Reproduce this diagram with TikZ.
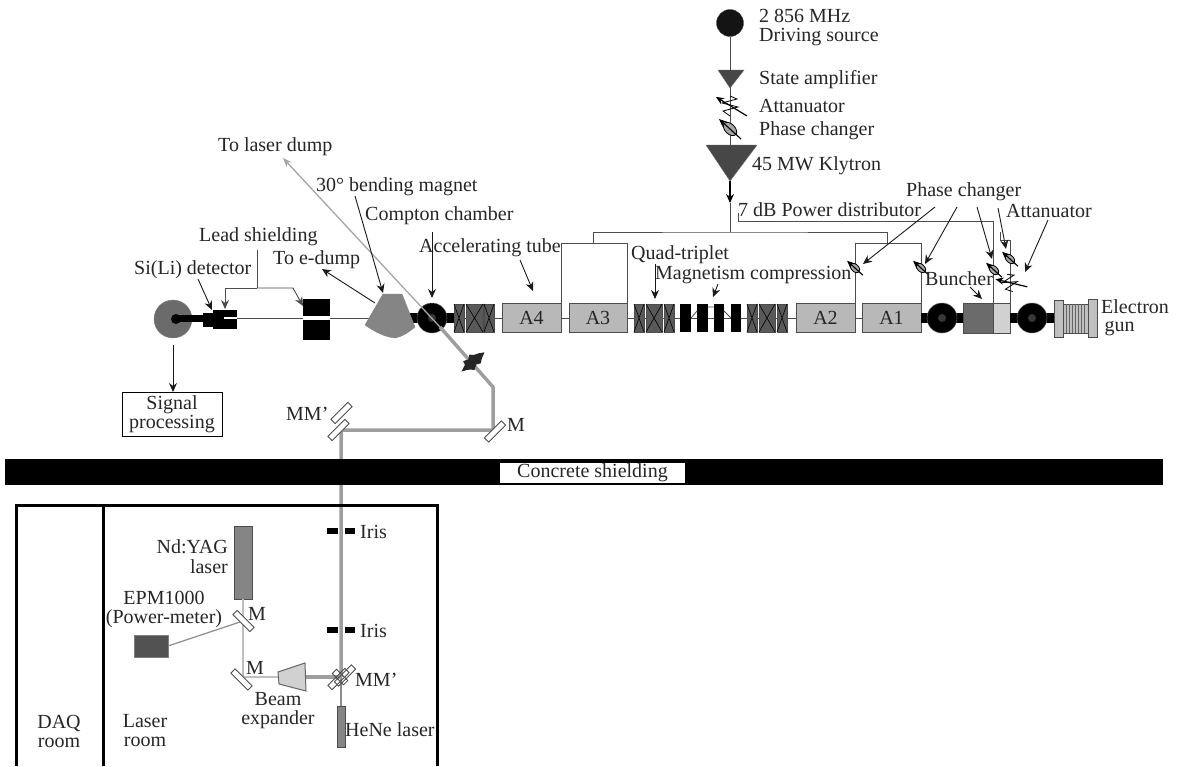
\documentclass[tikz,border=0pt]{standalone}
\usepackage{fontspec}
\setmainfont{Liberation Serif}
\usetikzlibrary{arrows.meta,shapes.geometric}
\newcommand{\pbx}[7]{%
 \pgfmathsetmacro\cxx{(#3+#5)/2}\pgfmathsetmacro\cyy{(#4+#6)/2}%
 \pgfmathsetmacro\wxx{abs(#5-#3)}\pgfmathsetmacro\hyy{abs(#6-#4)}%
 \node[#1,minimum width=\wxx pt,minimum height=\hyy pt] (#2) at (\cxx,\cyy) {#7};}
\newcommand{\quadm}[3]{\pbx{quadbox}{#1}{#2}{304}{#3}{332}{}%
 \draw[line width=.6pt,black] (#1.north west)--(#1.south east) (#1.north east)--(#1.south west);}
\tikzset{
 txt/.style={font=\fontsize{20}{19.5}\selectfont,inner sep=0pt,anchor=west,text=black!85,align=left,yshift=-1.5pt},
 ctxt/.style={txt,anchor=center,align=center},
 part/.style={draw=black!70,line width=1pt,inner sep=0pt,outer sep=0pt},
 tube/.style={part,fill=black!28,font=\fontsize{20}{19.5}\selectfont,text=black!85},
 quadbox/.style={part,fill=black!65},
 solid black/.style={fill=black,draw=none,inner sep=0pt,outer sep=0pt},
 wire/.style={draw=black!70,line width=1pt},
 arr/.style={draw=black!90,line width=.9pt,-{Stealth[length=9pt,width=8pt]}},
 beam/.style={draw=black!38,line width=3.5pt},
 thinbeam/.style={draw=black!25,line width=1.2pt},
 mirror/.style={draw=black!70,fill=white,line width=.8pt,rectangle,minimum width=24pt,minimum height=6pt,inner sep=0pt},
 hole/.style={circle,fill=black,draw=black!60,line width=.5pt,inner sep=0pt,minimum size=#1},
 phasesym/.pic={
  \draw[draw=black,fill=black!35,line width=.8pt] (0,0) ellipse [x radius=8,y radius=5,rotate=-45];
  \draw[draw=black,line width=1.1pt,-{Stealth[length=8pt,width=7pt]}] (11,10)--(-11,-10);},
 attsym/.pic={
  \draw[draw=black,line width=.8pt] (0,-10)--(7,-7)--(-8,-3)--(8,1)--(-7,5)--(0,10);
  \draw[draw=black,line width=1.2pt,-{Stealth[length=8pt,width=7pt]}] (17,10)--(-14,-9);},
}
\begin{document}
\begin{tikzpicture}[x=1pt,y=-1pt]
\useasboundingbox[fill=white] (0,0) rectangle (1182,766);
% beam line
\coordinate (bl) at (173,318); \coordinate (gunl) at (1054,318);
\draw[wire] (bl)--(gunl);
% RF chain
\node[circle,fill=black!92,draw=black!70,inner sep=0pt,minimum size=27pt] (src) at (730,23) {};
\coordinate (amptop) at (730,70);
\coordinate (klytop) at (730,145);
\coordinate (klyapex) at (730,181);
\coordinate (split) at (730,203);
\coordinate (bus) at (730,232);
\draw[wire] (src)--(amptop);
\draw[wire] (amptop)--(klytop);
\path[fill=black!72,draw=black!60] (718,70)--(744,70)--(730,88)--cycle;
\path pic at (730,106) {attsym};
\path pic at (730,129) {phasesym};
\path[fill=black!72,draw=black!60] (706,145)--(757,145)--(730,181)--cycle;
\draw[draw=black,line width=1.2pt,-{Stealth[length=9pt,width=8pt]}] (klyapex)--(split);
\draw[wire] (split)--(bus);
% accelerating tubes
\pbx{tube}{a4}{502}{303}{561}{332}{A4}
\pbx{tube}{a3}{569}{303}{627}{332}{A3}
\pbx{tube}{a2}{796}{303}{855}{332}{A2}
\pbx{tube}{a1}{862}{303}{921}{332}{A1}
% waveguide loops
\coordinate (lp3) at (561,243); \coordinate (lp1) at (855,243);
\draw[wire] (a4.north east)--(lp3)-|(a3.north east);
\draw[wire] (a2.north east)--(lp1)-|(a1.north east);
\coordinate (bl3) at (593,243); \coordinate (bl1) at (887,243);
\draw[wire] (bl3)|-(bus) -| (bl1);
% quads
\quadm{qa}{454}{464}\quadm{qb}{466}{483}\quadm{qc}{484}{494}
\quadm{qd}{634}{644}\quadm{qe}{646}{662}\quadm{qf}{664}{674}
\quadm{qg}{747}{757}\quadm{qh}{759}{775}\quadm{qi}{777}{787}
% chicane
\pbx{solid black}{ma}{680}{304}{691}{332}{}
\pbx{solid black}{mb}{697}{304}{708}{332}{}
\pbx{solid black}{mc}{714}{304}{724}{332}{}
\pbx{solid black}{md}{731}{304}{741}{332}{}
\draw[wire,line width=.8pt] (691,318)--(697,311) (708,307)--(714,307) (724,311)--(731,318);
% buncher and gun
\pbx{part,fill=black!58}{bun}{963}{303}{993}{333}{}
\pbx{part,fill=black!18}{bunb}{993}{303}{1010}{333}{}
\pbx{solid black}{bara}{921}{313}{963}{323}{}
\node[hole=30pt] (ca) at (942,318) {};
\node[circle,fill=black!78,inner sep=0pt,minimum size=8pt] (cai) at (942,318) {};
\pbx{solid black}{barb}{1010}{313}{1054}{323}{}
\node[hole=30pt] (cb) at (1032,318) {};
\node[circle,fill=black!78,inner sep=0pt,minimum size=8pt] (cbi) at (1032,318) {};
\pbx{part,fill=black!25}{guna}{1054}{300}{1063}{337}{}
\pbx{part,fill=black!25}{gunc}{1088}{299}{1097}{337}{}
\pbx{part,fill=black!25,line width=.6pt}{gunb}{1063}{304}{1088}{333}{}
\foreach \gx in {1066,1069,...,1086}{\draw[black!60,line width=.7pt] (\gx,304)--(\gx,333);}
% second power line
\coordinate (pa) at (738,213); \coordinate (pb) at (738,221); \coordinate (pc) at (993,221);
\draw[wire] (pa)--(pb)--(pc)--(bun.north east);
\coordinate (pd) at (1000,232); \coordinate (pe) at (1000,240); \coordinate (pf) at (1010,240);
\draw[wire] (pd)--(pe)--(pf)--(bunb.north east);
\path pic[scale=.72] at (855,268) {phasesym};
\path pic[scale=.72] at (921,268) {phasesym};
\path pic[scale=.72] at (994,270) {phasesym};
\path pic[scale=.72] at (1010,259) {phasesym};
\path pic[rotate=18,scale=.9] at (1010,283) {attsym};
% left end
\node[circle,fill=black!58,draw=black!50,inner sep=0pt,minimum size=38pt] (det) at (173,319) {};
\pbx{solid black}{detbar}{176}{315}{205}{322}{}
\node[circle,fill=black,inner sep=0pt,minimum size=10pt] (detdot) at (176,319) {};
\pbx{solid black}{dethead}{203}{313}{214}{327}{}
\pbx{solid black}{detbody}{213}{310}{237}{329}{}
\pbx{solid black}{leada}{303}{299}{330}{340}{}
\node[fill=white,inner sep=0pt,minimum width=27pt,minimum height=4pt] (leadb) at (316.5,318) {};
\node[fill=white,inner sep=0pt,minimum width=13pt,minimum height=2.5pt] (detslit) at (230.5,318) {};
\pbx{solid black}{barc}{410}{313}{454}{323}{}
\node[hole=30pt] (cc) at (432,318) {};
\node[circle,fill=black!78,inner sep=0pt,minimum size=8pt] (cci) at (432,318) {};
\path[fill=black!48,draw=black!50] (383,294)--(402,294)--(415,327) .. controls (408,333) and (401,337) .. (395,338) .. controls (385,337) and (375,332) .. (365,325)--cycle;
\coordinate (bendtop) at (383,293);
\coordinate (bendl) at (375,303);
% laser beam outside
\coordinate (dump) at (283,158);
\coordinate (bsa) at (440,327); \coordinate (bsb) at (493,387); \coordinate (bsc) at (493,430);
\coordinate (bsd) at (341,430); \coordinate (bse) at (341,677);
\draw[draw=black!35,line width=1.3pt,-{Stealth[length=9pt,width=7pt]}] (bsa)--(dump);
\draw[beam,line join=round] (bsa)--(bsb)--(bsc)--(bsd)--(bse);
\path[fill=black!85,shift={(473,362)},rotate=40] (-15,0)--(-8,-3)--(-7,-7)--(-2,-5)--(2,-8)--(5,-5)--(10,-3)--(15,0)--(9,3)--(5,6)--(1,4)--(-4,7)--(-7,4)--(-10,2)--cycle;
% mirrors beam room
\node[mirror,rotate=45] (mma) at (341.5,413) {};
\node[mirror,rotate=45] (mmb) at (338.5,430) {};
\node[mirror,rotate=45] (mtop) at (495,431.5) {};
% concrete
\pbx{solid black}{conc}{5}{459}{1163}{485}{}
\pbx{fill=white,inner sep=0pt,outer sep=0pt,font=\fontsize{20}{19.5}\selectfont,text=black!85}{concl}{500}{463}{685}{483}{Concrete shielding}
% rooms
\draw[draw=black,line width=3pt] (16,766)--(16,505)--(437,505)--(437,766);
\coordinate (divt) at (103.5,505); \coordinate (divb) at (103.5,766);
\draw[draw=black,line width=3pt] (divt)--(divb);
% irises
\pbx{solid black}{ira}{327}{528}{338}{534}{}
\pbx{solid black}{irb}{345}{528}{355}{534}{}
\pbx{solid black}{irc}{327}{627}{338}{633}{}
\pbx{solid black}{ird}{345}{627}{355}{633}{}
% laser room
\pbx{part,fill=black!48}{yag}{234}{526}{252}{599}{}
\pbx{part,draw=black!50,fill=black!68}{epm}{134}{635}{168}{657}{}
\pbx{part,fill=black!48}{hene}{337}{706}{345}{747}{}
\coordinate (ma) at (243,621); \coordinate (mb) at (243,677);
\coordinate (bxl) at (278,677); \coordinate (bxr) at (306,677);
\draw[thinbeam] (yag.south)--(ma)--(mb)--(bxl);
\draw[draw=black!45,line width=1.2pt] (epm.east)--(ma);
\draw[draw=black!45,line width=1.2pt] (bse)--(hene.north);
\draw[beam] (bxr)--(bse);
\path[fill=black!18,draw=black!60,line width=1pt] (278,672)--(305,663)--(306,691)--(279,684)--cycle;
\node[mirror,rotate=-45] (m1) at (243.5,621) {};
\node[mirror,rotate=-45] (m2) at (241.5,679.5) {};
\node[mirror,rotate=45,fill=none] (mmc) at (338.5,679) {};
\node[mirror,rotate=45,fill=none] (mmd) at (345,675.5) {};
\node[mirror,rotate=-45,fill=none,minimum width=16pt] (mme) at (340,677) {};
% signal box
\pbx{draw=black,line width=1pt,inner sep=0pt,outer sep=0pt,font=\fontsize{20}{19.5}\selectfont,text=black!85,align=center}{sig}{122}{392}{222}{436}{Signal\\[-1pt]processing}
% labels
\node[txt] (t1) at (759,26) {2 856 MHz\\Driving source};
\node[txt] (t2) at (759,78) {State amplifier};
\node[txt] (t3) at (759,104) {Attanuator};
\node[txt] (t4) at (759,129) {Phase changer};
\node[txt] (t5) at (752,164) {45 MW Klytron};
\node[txt] (t6) at (738,208) {7 dB Power distributor};
\node[txt] (t7) at (906,190) {Phase changer};
\node[txt] (t8) at (1006,209) {Attanuator};
\node[txt] (t9) at (925,277) {Buncher};
\node[txt] (t10) at (1101,316) {Electron\\[-1pt]\,gun};
\node[txt] (t11) at (631,253) {Quad-triplet};
\node[txt] (t12) at (655,274) {Magnetism compression};
\node[txt] (t13) at (419,246) {Accelerating tube};
\node[txt] (t14) at (365,214) {Compton chamber};
\node[txt] (t15) at (316,185) {30° bending magnet};
\node[txt] (t16) at (218,145) {To laser dump};
\node[txt] (t17) at (199,235) {Lead shielding};
\node[txt] (t18) at (273,258) {To e-dump};
\node[txt] (t19) at (134,268) {Si(Li) detector};
\node[txt] (t20) at (286,412) {MM’};
\node[txt] (t21) at (507,423) {M};
\node[txt] (t22) at (360,530) {Iris};
\node[txt] (t23) at (360,629) {Iris};
\node[txt,align=right,anchor=east] (t24) at (228,555) {Nd:YAG\\laser};
\node[ctxt] (t25) at (164,608) {EPM1000\\(Power-meter)};
\node[txt] (t26) at (248,612) {M};
\node[txt] (t27) at (246,666) {M};
\node[txt] (t28) at (355,678) {MM’};
\node[ctxt] (t29) at (278,709) {Beam\\expander};
\node[txt] (t30) at (345,728) {HeNe laser};
\node[ctxt] (t31) at (59,730) {DAQ\\room};
\node[ctxt] (t32) at (145,729) {Laser\\room};
% label arrows
\coordinate (aa1) at (935,207); \coordinate (ab1) at (863,264);
\coordinate (aa2) at (957,207); \coordinate (ab2) at (925,264);
\coordinate (aa3) at (977,207); \coordinate (ab3) at (992,259);
\coordinate (aa4) at (998,208); \coordinate (ab4) at (1006,249);
\coordinate (aa5) at (1048,220); \coordinate (ab5) at (1025,272);
\coordinate (aa6) at (970,287); \coordinate (ab6) at (982,299);
\draw[arr] (aa1)--(ab1); \draw[arr] (aa2)--(ab2); \draw[arr] (aa3)--(ab3);
\draw[arr] (aa4)--(ab4); \draw[arr] (aa5)--(ab5); \draw[arr] (aa6)--(ab6);
\coordinate (ac1) at (655,264); \coordinate (ad1) at (655,299);
\coordinate (ac2) at (718,284); \coordinate (ad2) at (713,297);
\coordinate (ac3) at (520,260); \coordinate (ad3) at (533,291);
\coordinate (ac4) at (432,232); \coordinate (ad4) at (432,298);
\coordinate (ac5) at (355,196); \coordinate (ad5) at (383,293);
\coordinate (ac6) at (322,269);
\draw[arr] (ac1)--(ad1); \draw[arr] (ac2)--(ad2); \draw[arr] (ac3)--(ad3);
\draw[arr] (ac4)--(ad4); \draw[arr] (ac5)--(ad5); \draw[arr] (bendl)--(ac6);
\coordinate (ls1) at (257,250); \coordinate (ls2) at (257,288);
\coordinate (ls3) at (225,288); \coordinate (ls4) at (225,309);
\coordinate (ls5) at (293,288); \coordinate (ls6) at (303,306);
\draw[wire] (ls1)--(ls2);
\draw[arr,draw=black!70] (ls2)--(ls3)--(ls4);
\draw[arr,draw=black!70] (ls2)--(ls5)--(ls6);
\coordinate (si1) at (198,279); \coordinate (si2) at (212,310);
\draw[arr] (si1)--(si2);
\coordinate (dt) at (173,345);
\draw[arr] (dt)--(sig.north -| dt);
\end{tikzpicture}
\end{document}
